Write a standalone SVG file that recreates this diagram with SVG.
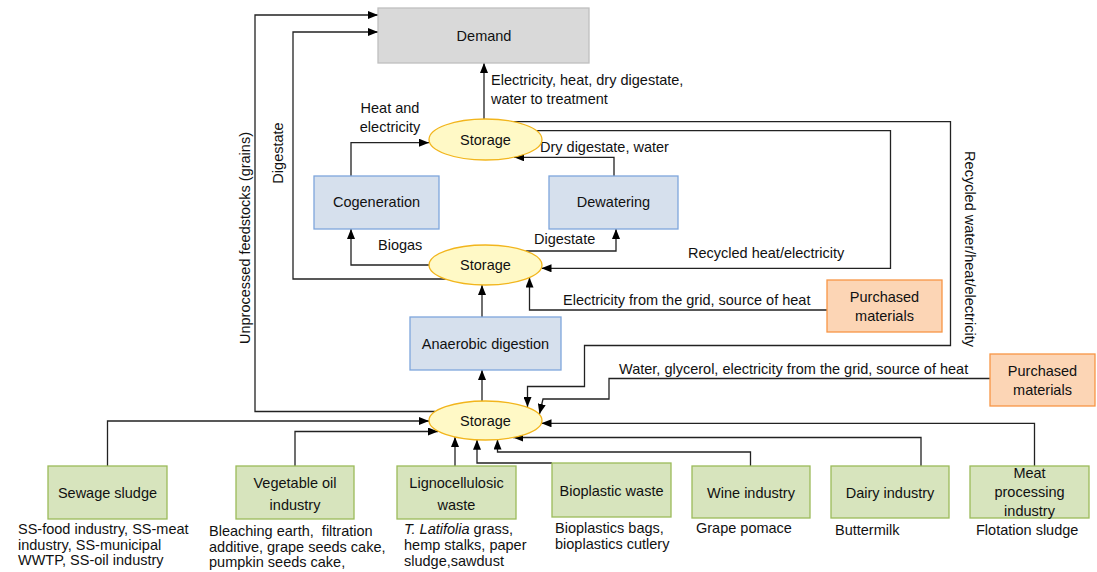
<svg xmlns="http://www.w3.org/2000/svg" width="1097" height="572" viewBox="0 0 1097 572">
<style>
text{font-family:"Liberation Sans",Arial,sans-serif;font-size:14.5px;fill:#111}
.c{text-anchor:middle}
.proc rect{fill:#d6e0ed;stroke:#7ea6dc;stroke-width:1.3}
.src rect{fill:#d7e4bd;stroke:#9bbb59;stroke-width:1.3}
.buy rect{fill:#fcd5b5;stroke:#f79646;stroke-width:1.3}
.sto ellipse{fill:#fff9c6;stroke:#f2b51c;stroke-width:1.3}
#connectors path{fill:none;stroke:#222;stroke-width:1.3}
#connectors path.a{marker-end:url(#arr)}
</style>
<defs>
<marker id="arr" viewBox="0 0 10 8" refX="10" refY="4" markerWidth="10" markerHeight="8" orient="auto" markerUnits="userSpaceOnUse"><path d="M0,0 L10,4 L0,8 z" fill="#000"/></marker>
</defs>
<rect width="1097" height="572" fill="#fff"/>

<g id="connectors">
<path class="a" d="M435,411.5 H255 V15 H378"/>
<path class="a" d="M447,279 H293 V32 H378"/>
<path class="a" d="M484,119 V63"/>
<path class="a" d="M351,176 V142.7 H429"/>
<path class="a" d="M614,176 V157.3 H514"/>
<path class="a" d="M511,121.7 H950.5 V345.5 H584.5 V386.5 H527.5 V407"/>
<path class="a" d="M536.5,130.7 H890.5 V268.3 H541.5"/>
<path class="a" d="M429,265 H351 V229"/>
<path class="a" d="M525.5,251 H616 V229"/>
<path class="a" d="M827,310 H529.5 V277.5"/>
<path class="a" d="M482,317 V285"/>
<path class="a" d="M482,401 V370"/>
<path class="a" d="M990,378.5 H609 V399 H543 L539.5,414"/>
<path class="a" d="M107.5,466 V421 H429"/>
<path class="a" d="M295,466 V431.5 H438"/>
<path class="a" d="M455,466 V437"/>
<path class="a" d="M552,463 H477 V439.8"/>
<path class="a" d="M750.5,466 V452 H497.5 V439.6"/>
<path class="a" d="M921,466 V437.5 H513"/>
<path class="a" d="M1034.5,466 V423.3 H541.5"/>
</g>

<g id="labels">
<text x="491" y="85">Electricity, heat, dry digestate,</text>
<text x="491" y="104">water to treatment</text>
<text class="c" x="390" y="113">Heat and</text>
<text class="c" x="390" y="131.5">electricity</text>
<text x="540" y="152">Dry digestate, water</text>
<text x="378" y="250">Biogas</text>
<text x="534" y="244">Digestate</text>
<text x="688" y="257.5">Recycled heat/electricity</text>
<text x="563" y="305">Electricity from the grid, source of heat</text>
<text x="619" y="374">Water, glycerol, electricity from the grid, source of heat</text>
<text class="c" transform="translate(970,249) rotate(90)" y="5">Recycled water/heat/electricity</text>
<text class="c" transform="translate(245,238) rotate(-90)" y="5">Unprocessed feedstocks (grains)</text>
<text class="c" transform="translate(278,153) rotate(-90)" y="5">Digestate</text>
</g>

<g id="demand"><rect x="378" y="8" width="211" height="55" fill="#d9d9d9" stroke="#bfbfbf" stroke-width="1.3"/><text class="c" x="484" y="41">Demand</text></g>

<g id="storage-top" class="sto"><ellipse cx="485.5" cy="139.5" rx="56.5" ry="20.5"/><text class="c" x="485.5" y="144.5">Storage</text></g>
<g id="storage-mid" class="sto"><ellipse cx="485.5" cy="265" rx="56.5" ry="20"/><text class="c" x="485.5" y="270">Storage</text></g>
<g id="storage-bottom" class="sto"><ellipse cx="485.5" cy="420.5" rx="56.5" ry="19.5"/><text class="c" x="485.5" y="425.5">Storage</text></g>

<g id="cogeneration" class="proc"><rect x="314" y="176" width="125" height="53"/><text class="c" x="376.5" y="207">Cogeneration</text></g>
<g id="dewatering" class="proc"><rect x="549" y="176" width="129" height="53"/><text class="c" x="613.5" y="207">Dewatering</text></g>
<g id="anaerobic" class="proc"><rect x="410" y="317" width="151" height="53"/><text class="c" x="485.5" y="349">Anaerobic digestion</text></g>

<g id="purchased1" class="buy"><rect x="827" y="280" width="115" height="52"/><text class="c" x="884.5" y="302">Purchased</text><text class="c" x="884.5" y="321">materials</text></g>
<g id="purchased2" class="buy"><rect x="990" y="354" width="105" height="52"/><text class="c" x="1042.5" y="376">Purchased</text><text class="c" x="1042.5" y="395">materials</text></g>

<g id="sewage" class="src"><rect x="48" y="466" width="119" height="53"/><text class="c" x="107.5" y="498">Sewage sludge</text>
<text x="18" y="534">SS-food industry, SS-meat</text><text x="18" y="549.5">industry, SS-municipal</text><text x="18" y="565">WWTP, SS-oil industry</text></g>
<g id="vegoil" class="src"><rect x="236" y="466" width="118" height="53"/><text class="c" x="295" y="488">Vegetable oil</text><text class="c" x="295" y="509.5">industry</text>
<text x="209" y="536">Bleaching earth,&#160; filtration</text><text x="209" y="551.5">additive, grape seeds cake,</text><text x="209" y="567">pumpkin seeds cake,</text></g>
<g id="ligno" class="src"><rect x="397" y="466" width="119" height="53"/><text class="c" x="456.5" y="488">Lignocellulosic</text><text class="c" x="456.5" y="509.5">waste</text>
<text x="404" y="534"><tspan font-style="italic">T. Latifolia</tspan> grass,</text><text x="404" y="550">hemp stalks, paper</text><text x="404" y="565.5">sludge,sawdust</text></g>
<g id="bioplastic" class="src"><rect x="552" y="463" width="119" height="54"/><text class="c" x="611.5" y="495.5">Bioplastic waste</text>
<text x="555" y="533">Bioplastics bags,</text><text x="555" y="549">bioplastics cutlery</text></g>
<g id="wine" class="src"><rect x="692" y="466" width="118" height="52"/><text class="c" x="751" y="497.5">Wine industry</text>
<text x="696" y="532.5">Grape pomace</text></g>
<g id="dairy" class="src"><rect x="831" y="466" width="118" height="52"/><text class="c" x="890" y="498">Dairy industry</text>
<text x="835" y="535">Buttermilk</text></g>
<g id="meat" class="src"><rect x="970" y="466" width="119" height="52"/><text class="c" x="1029.5" y="477.5">Meat</text><text class="c" x="1029.5" y="496.5">processing</text><text class="c" x="1029.5" y="515.5">industry</text>
<text x="976" y="535">Flotation sludge</text></g>
</svg>
